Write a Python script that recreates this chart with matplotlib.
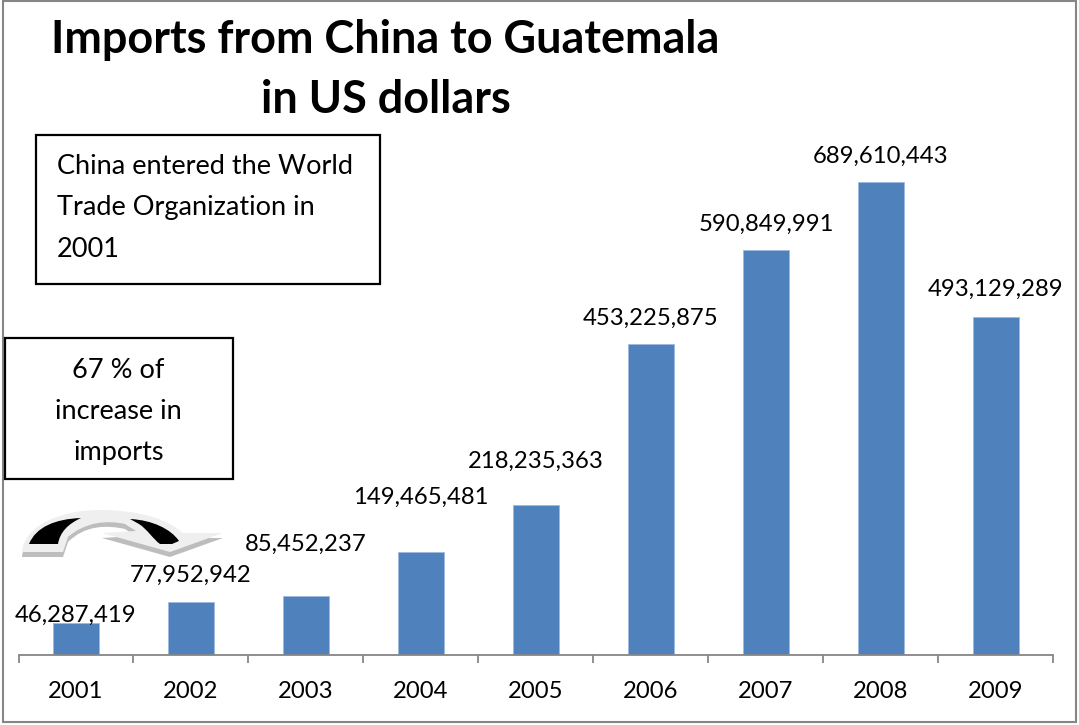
import matplotlib
matplotlib.use("Agg")
import matplotlib.pyplot as plt
from matplotlib.patches import PathPatch, Rectangle
from matplotlib.path import Path

plt.rcParams['font.family'] = ['Lato', 'DejaVu Sans']

years   = ['2001', '2002', '2003', '2004', '2005', '2006', '2007', '2008', '2009']
imports = [46287419, 77952942, 85452237, 149465481, 218235363,
           453225875, 590849991, 689610443, 493129289]

# label height above the top of each bar, in pixels
label_dy = [8, 26, 52, 55, 44, 26, 25, 26, 27]

W, H = 1079, 725
BLUE = '#4f81bd'
GREY = '#868686'
NUM_SIZE  = 17.2
NOTE_SIZE = 19.5
HEAD_SIZE = 32.4

fig = plt.figure(figsize=(W/100, H/100), dpi=100)
fig.patch.set_facecolor('white')

# bar chart, axis area given in pixels
ax = fig.add_axes([18.5/W, 1 - 655/H, (1053.5 - 18.5)/W, 650/H])
ax.bar(range(len(years)), imports, width=0.4, color=BLUE,
       edgecolor='#9dbbe0', linewidth=0.6)
ax.set_xlim(-0.5, 8.5)
ax.set_ylim(0, 650/473*max(imports))
for s in ['top', 'left', 'right']:
    ax.spines[s].set_visible(False)
ax.spines['bottom'].set_color(GREY)
ax.spines['bottom'].set_linewidth(1.3)
ax.set_yticks([])
ax.set_xticks([i - 0.5 for i in range(len(years) + 1)])
ax.set_xticklabels([])
ax.set_xticks(range(len(years)), labels=years, minor=True)
ax.tick_params(axis='x', which='major', length=5.5, width=1.3, color=GREY)
ax.tick_params(axis='x', which='minor', length=0, pad=18.5, labelsize=NUM_SIZE, labelcolor='black')
ax.patch.set_alpha(0)

for i, v in enumerate(imports):
    ax.annotate(f"{v:,}", (i, v), xytext=(0, label_dy[i]),
                textcoords='offset pixels', ha='center', va='center',
                fontsize=NUM_SIZE, color='black', zorder=5)

# overlays in pixel coordinates for the frame, notes and arrow
ov = fig.add_axes([0, 0, 1, 1], zorder=-1)
ov.set_xlim(0, W)
ov.set_ylim(H, 0)
ov.axis('off')
ov2 = fig.add_axes([0, 0, 1, 1], zorder=3)
ov2.set_xlim(0, W)
ov2.set_ylim(H, 0)
ov2.axis('off')
ov2.patch.set_alpha(0)

ov.add_patch(Rectangle((3, 1), 1073, 721, fill=False, edgecolor=GREY, linewidth=1.5))

ov2.text(385, 40, 'Imports from China to Guatemala', fontsize=HEAD_SIZE, fontweight='bold',
         ha='center', va='center')
ov2.text(386, 100, 'in US dollars', fontsize=HEAD_SIZE, fontweight='bold', ha='center', va='center')

# first note box
ov2.add_patch(Rectangle((36, 135), 344, 149, facecolor='white', edgecolor='black', linewidth=1.6))
for y, line in zip([166, 207, 249], ['China entered the World', 'Trade Organization in', '2001']):
    ov2.text(57, y, line, fontsize=NOTE_SIZE, ha='left', va='center')

# second note box
ov2.add_patch(Rectangle((5, 338), 228, 141, facecolor='white', edgecolor='black', linewidth=1.6))
for y, line in zip([370, 411, 452], ['67 % of', 'increase in', 'imports']):
    ov2.text(118.5, y, line, fontsize=NOTE_SIZE, ha='center', va='center')

# curved arrow: grey shadow, pale body, black faces
body = [(22, 552), (24, 526), (60, 510), (100, 510), (140, 510), (170, 520), (182, 533),
        (223, 533), (170, 552), (102, 533), (136, 531), (125, 524), (107, 520),
        (85, 522), (68, 537), (63, 552), (22, 552)]
codes = [Path.MOVETO, Path.CURVE4, Path.CURVE4, Path.CURVE4, Path.CURVE4, Path.CURVE4, Path.CURVE4,
         Path.LINETO, Path.LINETO, Path.LINETO, Path.LINETO, Path.LINETO, Path.CURVE4,
         Path.CURVE4, Path.CURVE4, Path.LINETO, Path.CLOSEPOLY]
shadow = [(x, y + 5) if x < 70 or x > 100 else (x, y + 3) for x, y in body]
ov2.add_patch(PathPatch(Path(shadow, codes), facecolor='#bdbdbd', edgecolor='none'))
ov2.add_patch(PathPatch(Path(body, codes), facecolor='#efefef', edgecolor='none'))

left_face = [(29, 544), (36, 527), (55, 519), (81, 518), (68, 524), (60, 532), (58, 544), (29, 544)]
right_face = [(130, 519), (152, 520), (171, 529), (179, 541), (172, 544), (160, 544), (153, 539),
              (147, 529), (139, 524), (130, 519)]
left_codes = [Path.MOVETO] + [Path.CURVE4]*6 + [Path.CLOSEPOLY]
right_codes = [Path.MOVETO] + [Path.CURVE4]*3 + [Path.LINETO]*2 + [Path.CURVE4]*3 + [Path.CLOSEPOLY]
ov2.add_patch(PathPatch(Path(left_face, left_codes), facecolor='black', edgecolor='none'))
ov2.add_patch(PathPatch(Path(right_face, right_codes), facecolor='black', edgecolor='none'))

fig.savefig('out.png', dpi=100)
